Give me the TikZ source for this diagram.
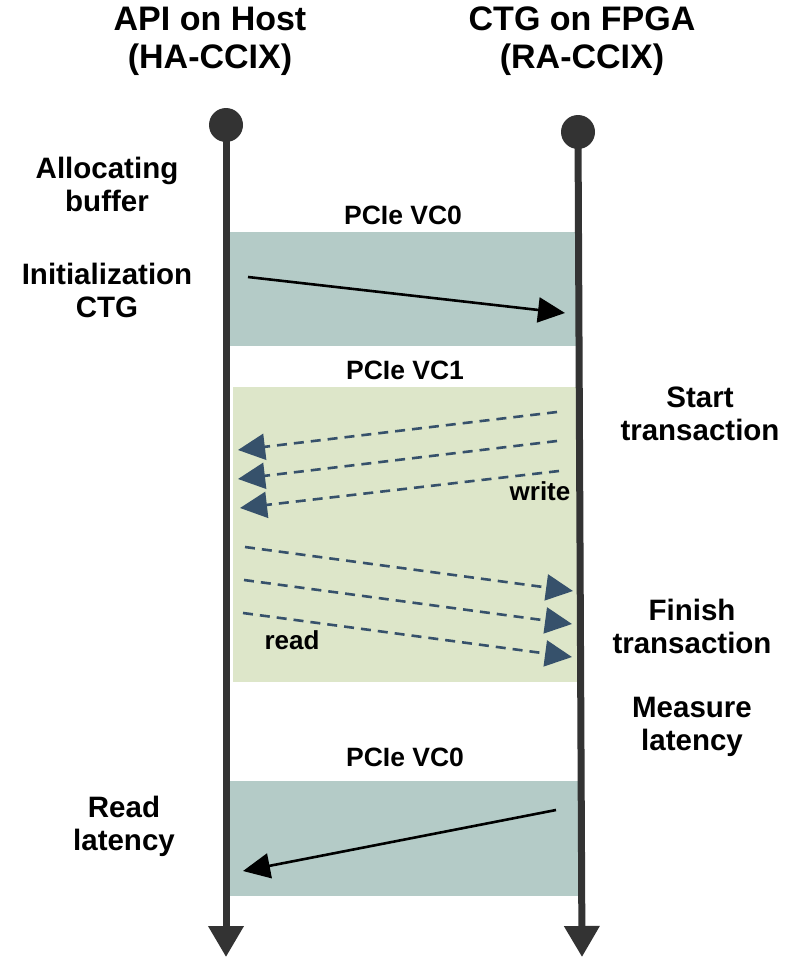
\documentclass[tikz,border=0pt]{standalone}
\usepackage{fontspec}
\setmainfont{Liberation Sans}
\usetikzlibrary{arrows.meta}

\definecolor{lifeline}{HTML}{333333}
\definecolor{vczero}{HTML}{B4CBC7}
\definecolor{vcone}{HTML}{DDE6C9}
\definecolor{flow}{HTML}{36516B}

\tikzset{
  title/.style={font=\bfseries\fontsize{34}{38}\selectfont, align=center, inner sep=0pt},
  side/.style={font=\bfseries\fontsize{29.5}{33}\selectfont, align=center, inner sep=0pt},
  chan/.style={font=\bfseries\fontsize{26.5}{30}\selectfont, inner sep=0pt},
  tag/.style={font=\bfseries\fontsize{26}{30}\selectfont, inner sep=0pt},
  life/.style={draw=lifeline, line width=7pt, -{Triangle[length=31pt,width=34pt]}},
  lifedot/.style={circle, fill=lifeline, minimum size=34pt, inner sep=0pt},
  msg/.style={draw=black, line width=2.6pt, -{Triangle[length=27pt,width=25pt]}},
  pkt/.style={draw=flow, line width=2.6pt, dash pattern=on 10pt off 7pt,
              -{Triangle[length=27pt,width=26pt]}, color=flow},
}

\begin{document}
\begin{tikzpicture}[x=1pt, y=-1pt]
  \useasboundingbox (0,0) rectangle (786,958);

  % channel bands
  \fill[vczero] (230,232) rectangle (576,346);
  \fill[vcone]  (233,387) rectangle (577,682);
  \fill[vczero] (230,781) rectangle (579,896);

  % lifelines
  \node[lifedot] (hostTop) at (226,125) {};
  \node[lifedot] (fpgaTop) at (578,132) {};
  \coordinate (hostEnd) at (226,957);
  \coordinate (fpgaEnd) at (582,957);
  \draw[life] (hostTop.center) -- (hostEnd);
  \draw[life] (fpgaTop.center) -- (fpgaEnd);

  % headers
  \node[title] (hostTitle) at (210,41) {API on Host\\(HA-CCIX)};
  \node[title] (fpgaTitle) at (582,41) {CTG on FPGA\\(RA-CCIX)};

  % step labels
  \node[side] (alloc) at (107,184) {Allocating\\buffer};
  \node[side] (init)  at (107,290) {Initialization\\CTG};
  \node[side] (start) at (700,414) {Start\\transaction};
  \node[side] (finish) at (692,626) {Finish\\transaction};
  \node[side] (measure) at (692,727) {Measure\\latency};
  \node[side] (readlat) at (124,826) {Read\\latency};

  % channel labels
  \node[chan] (vcA) at (403,215) {PCIe VC0};
  \node[chan] (vcB) at (405,370) {PCIe VC1};
  \node[chan] (vcC) at (405,757) {PCIe VC0};

  % initialization message
  \draw[msg] (248,277) -- (565,313);

  % write packets
  \draw[pkt] (557,412) -- (238,450);
  \draw[pkt] (557,441) -- (238,479);
  \draw[pkt] (559,471) -- (240,508);
  \node[tag] (wr) at (540,491) {write};

  % read packets
  \draw[pkt] (245,547) -- (573,591);
  \draw[pkt] (244,580) -- (572,624);
  \draw[pkt] (243,613) -- (572,657);
  \node[tag] (rd) at (292,640) {read};

  % latency read-back
  \draw[msg] (556,810) -- (243,871);
\end{tikzpicture}
\end{document}
